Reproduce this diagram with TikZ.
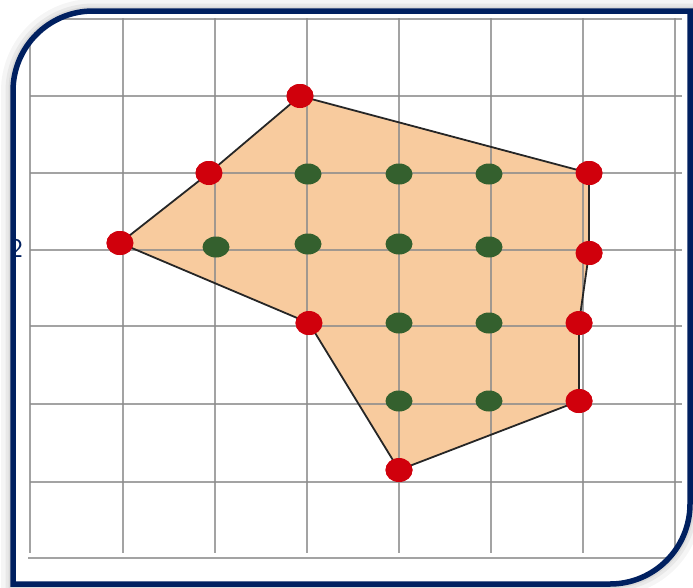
\documentclass[tikz,border=0pt]{standalone}
\usepackage{fontspec}
\usepackage{xcolor}
\usepackage{tikz}
\usetikzlibrary{shapes}
\usetikzlibrary{positioning}
\definecolor{navy}{RGB}{0,32,96}
\definecolor{peach}{RGB}{248,203,158}
\definecolor{ptred}{RGB}{208,0,12}
\definecolor{ptgreen}{RGB}{52,96,46}
\definecolor{gridgray}{RGB}{140,140,140}

\begin{document}
\begin{tikzpicture}[x=1pt,y=-1pt]
\tikzset{
    frameshape/.style = {insert path={(13,584) -- (13,300) [rounded corners=80pt] -- (13,11) -- (300,11) [sharp corners] -- (690,11) -- (690,300) [rounded corners=80pt] -- (690,584) -- (300,584) [sharp corners] -- cycle}},
    boundary/.style   = {ellipse, fill=ptred, inner sep=0pt, minimum width=27pt, minimum height=24pt},
    interior/.style   = {ellipse, fill=ptgreen, inner sep=0pt, minimum width=27pt, minimum height=21pt},
    gridline/.style   = {draw=gridgray, line width=1.8pt, opacity=0.8}
}
\useasboundingbox (0,0) rectangle (693,587);
\fill[white] (0,0) rectangle (693,587);
\draw[black, opacity=0.04, line width=24pt, frameshape, xshift=-4pt, yshift=4pt];
\draw[black, opacity=0.05, line width=15pt, frameshape, xshift=-3pt, yshift=3pt];
\draw[black, opacity=0.06, line width=9pt, frameshape, xshift=-2pt, yshift=2pt];
\fill[white, frameshape];
\begin{scope}
\clip[frameshape];
\node [boundary] (b1) at (300,96) {};
\node [boundary] (b2) at (589,173) {};
\node [boundary] (b3) at (589,253) {};
\node [boundary] (b4) at (579,323) {};
\node [boundary] (b5) at (579,401) {};
\node [boundary] (b6) at (399,470) {};
\node [boundary] (b7) at (309,323) {};
\node [boundary] (b8) at (120,243) {};
\node [boundary] (b9) at (209,173) {};
\fill[peach] (b1.center) -- (b2.center) -- (b3.center) -- (b4.center) -- (b5.center) -- (b6.center) -- (b7.center) -- (b8.center) -- (b9.center) -- cycle;
\foreach \x in {30,123,215,307,399,491,583,675}
   \draw[gridline] (\x,18) -- (\x,553);
\foreach \y in {19,96,173,250,326,404,482}
   \draw[gridline] (30,\y) -- (682,\y);
\draw[gridline] (28,558) -- (682,558);
\node [anchor=east, inner sep=0pt, text=navy, font=\sffamily\fontsize{27}{27}\selectfont] (lbl) at (23,248) {2};
\draw[black!85, line width=1.8pt] (b1.center) -- (b2.center) -- (b3.center) -- (b4.center) -- (b5.center) -- (b6.center) -- (b7.center) -- (b8.center) -- (b9.center) -- cycle;
\node [boundary] at (b1) {};
\node [boundary] at (b2) {};
\node [boundary] at (b3) {};
\node [boundary] at (b4) {};
\node [boundary] at (b5) {};
\node [boundary] at (b6) {};
\node [boundary] at (b7) {};
\node [boundary] at (b8) {};
\node [boundary] at (b9) {};
\node [interior] (g1) at (308,174) {};
\node [interior] (g2) at (399,174) {};
\node [interior] (g3) at (489,174) {};
\node [interior] (g4) at (216,247) {};
\node [interior] (g5) at (308,244) {};
\node [interior] (g6) at (399,244) {};
\node [interior] (g7) at (489,247) {};
\node [interior] (g8) at (399,323) {};
\node [interior] (g9) at (489,323) {};
\node [interior] (g10) at (399,401) {};
\node [interior] (g11) at (489,401) {};
\end{scope}
\draw[navy, line width=5.5pt, frameshape];
\end{tikzpicture}
\end{document}
